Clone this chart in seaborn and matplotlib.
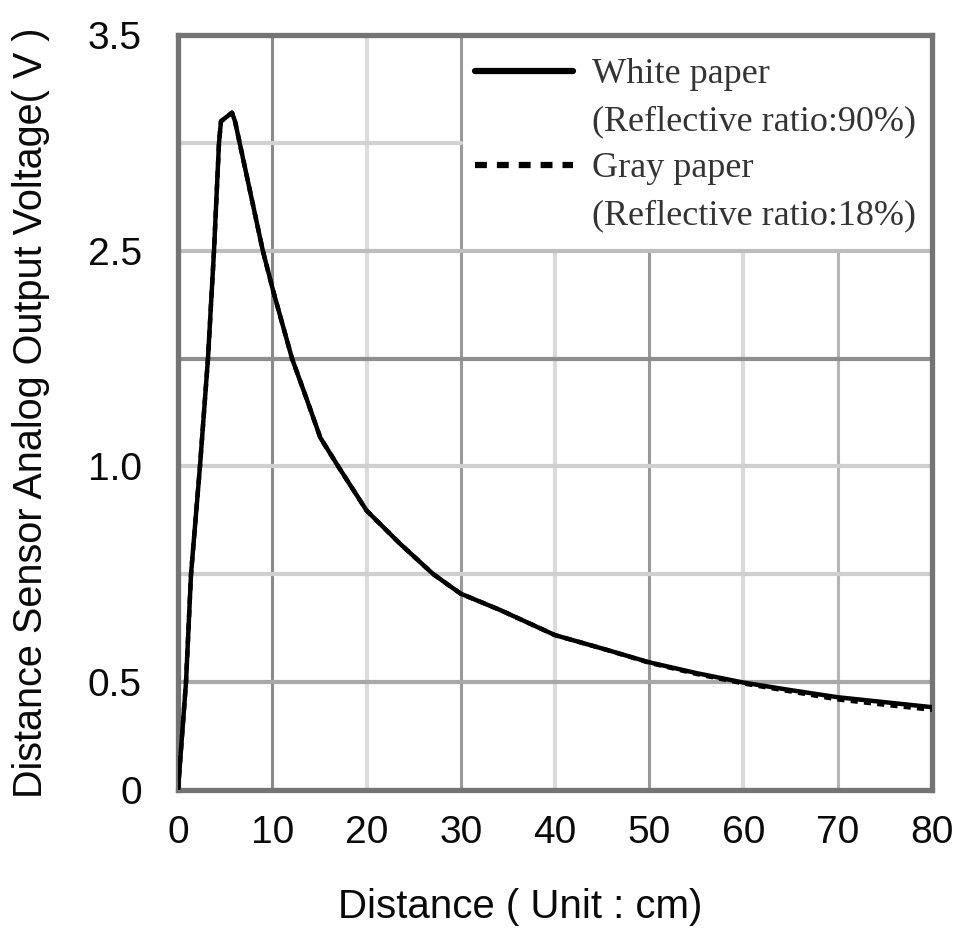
import numpy as np
import pandas as pd
import matplotlib
matplotlib.use("Agg")
import matplotlib.pyplot as plt
from matplotlib.lines import Line2D
import seaborn as sns

# ---- data ----
distance_cm = [0, 0.85, 1.38, 2.33, 3.18, 3.82, 4.35, 4.56, 5.73, 6.05, 9.0, 10.1,
               12.1, 13.7, 15.1, 17.0, 20, 23.5, 27.1, 30, 34.2, 40, 45, 50, 55,
               60, 65, 70, 75, 80]
white_paper_v = [0, 0.5, 0.75, 1.0, 1.75, 2.5, 3.0, 3.10, 3.14, 3.10, 2.5, 2.22,
                 1.75, 1.46, 1.20, 1.0, 0.898, 0.822, 0.75, 0.705, 0.667, 0.609, 0.578, 0.546, 0.521,
                 0.498, 0.463, 0.43, 0.407, 0.384]
gray_paper_v = [0, 0.5, 0.75, 1.0, 1.75, 2.5, 3.0, 3.10, 3.14, 3.10, 2.5, 2.22,
                1.75, 1.46, 1.20, 1.0, 0.898, 0.822, 0.75, 0.705, 0.667, 0.609, 0.578, 0.545, 0.519,
                0.494, 0.457, 0.42, 0.395, 0.372]

# y-axis grid levels (non-linear printed scale) and labels
y_grid_levels = [0, 0.5, 0.75, 1.0, 1.75, 2.5, 3.0, 3.5]
y_tick_labels = ["0", "0.5", "", "1.0", "", "2.5", "", "3.5"]
x_ticks = [0, 10, 20, 30, 40, 50, 60, 70, 80]

series_labels = ["White paper", "Gray paper"]
legend_sublabels = ["(Reflective ratio:90%)", "(Reflective ratio:18%)"]

df = pd.DataFrame({
    "Distance": distance_cm * 2,
    "Voltage": white_paper_v + gray_paper_v,
    "Paper": [series_labels[0]] * len(distance_cm) + [series_labels[1]] * len(distance_cm),
})

sns.set_style("white")
plt.rcParams["font.family"] = ["Liberation Sans", "DejaVu Sans"]

fig = plt.figure(figsize=(9.62, 9.30), dpi=100)
ax = fig.add_axes([178 / 962, 1 - 790 / 930, (932 - 178) / 962, (790 - 35) / 930])

# piecewise-linear y scale: each printed grid level is equally spaced
pos = np.arange(len(y_grid_levels), dtype=float)
lev = np.array(y_grid_levels, dtype=float)
fwd = lambda v: np.interp(v, lev, pos, left=-1, right=len(lev))
inv = lambda p: np.interp(p, pos, lev)
ax.set_yscale("function", functions=(fwd, inv))

# legend area (white block in the upper right, gridlines stop at it)
leg_left_x = 30          # cm
leg_bottom_frac = 5 / 7  # axes fraction (at the 2.5 gridline)

vgrid_colors = {10: "#8a8a8a", 20: "#dcdcdc", 30: "#999999", 40: "#dadada",
                50: "#999999", 60: "#dadada", 70: "#b5b5b5"}
for xv in x_ticks[1:-1]:
    c = vgrid_colors[xv]
    ymax = leg_bottom_frac if xv > leg_left_x else 1
    ax.axvline(xv, ymax=ymax, color=c, lw=2.2 if c < "#c" else 3.0, zorder=0.5)
hgrid = list(zip(y_grid_levels[1:-1],
                 ["#a8a8a8", "#cfcfcf", "#cfcfcf", "#8e8e8e", "#bdbdbd", "#d2d2d2"]))
for yv, c in hgrid:
    xmax = leg_left_x / 80 if fwd(yv) > 5 else 1
    ax.axhline(yv, xmax=xmax, color=c, lw=3.0, zorder=0.5)

sns.lineplot(data=df[df["Paper"] == series_labels[1]], x="Distance", y="Voltage",
             color="black", lw=3.2, ax=ax, legend=False, zorder=3)
ax.lines[-1].set_dashes((1.6, 1.4))
sns.lineplot(data=df[df["Paper"] == series_labels[0]], x="Distance", y="Voltage",
             color="black", lw=3.2, ax=ax, legend=False, zorder=4)

ax.set_xlim(0, 80)
ax.set_ylim(0, 3.5)
ax.set_xticks(x_ticks)
ax.set_xticklabels([str(v) for v in x_ticks])
ax.set_yticks(y_grid_levels)
ax.set_yticklabels(y_tick_labels)
ax.yaxis.set_minor_locator(matplotlib.ticker.NullLocator())
ax.tick_params(axis="both", length=0, labelsize=28, colors="#0a0a0a")
ax.tick_params(axis="x", pad=18)
ax.tick_params(axis="y", pad=26)

for s in ax.spines.values():
    s.set_color("#747474")
    s.set_linewidth(3.8)
    s.set_visible(True)

ax.set_xlabel("Distance ( Unit : cm)", fontsize=29, color="#0a0a0a")
ax.set_ylabel("Distance Sensor Analog Output Voltage( V )", fontsize=28.5, color="#0a0a0a")
ax.xaxis.set_label_coords(0.4536, -0.130)
ax.yaxis.set_label_coords(-0.170, 0.5)

# legend: one row per printed line
handles = [Line2D([], [], color="black", lw=4.5),
           Line2D([], [], linestyle="none"),
           Line2D([], [], color="black", lw=4.5, dashes=(1.9, 1.6)),
           Line2D([], [], linestyle="none")]
labels = [series_labels[0], legend_sublabels[0], series_labels[1], legend_sublabels[1]]
leg = ax.legend(handles, labels, loc="upper left",
                bbox_to_anchor=((475 - 178) / 754, (790 - 58) / 755),
                borderaxespad=0, borderpad=0, handlelength=2.71, handletextpad=0.53,
                labelspacing=0.38, frameon=False,
                prop={"family": ["Liberation Serif"], "size": 26})
for t in leg.get_texts():
    t.set_color("#333333")

fig.savefig("out.png", dpi=100)
